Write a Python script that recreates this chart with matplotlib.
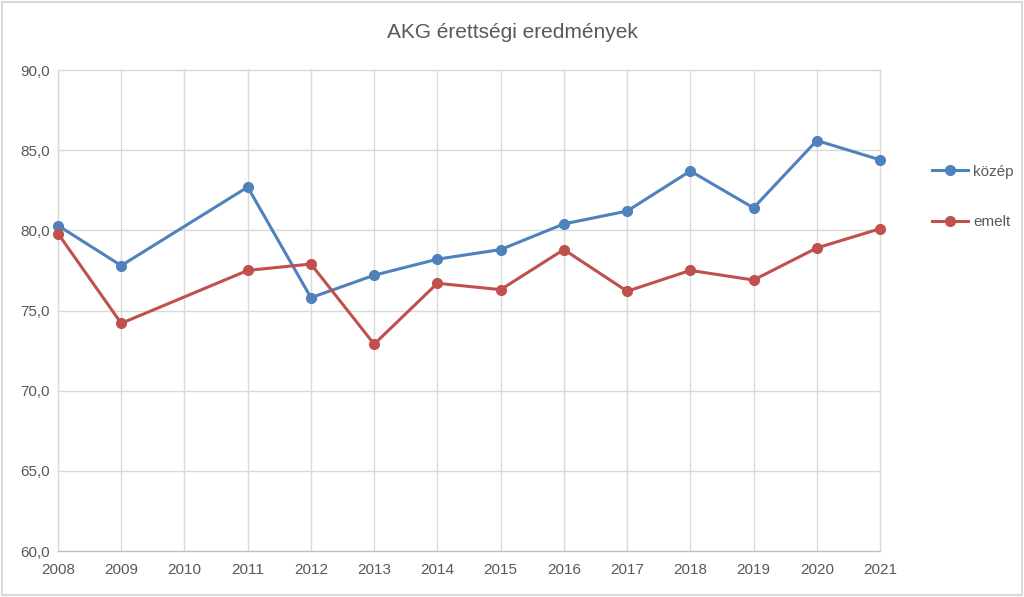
import matplotlib.pyplot as plt
from matplotlib.patches import Rectangle

# adatok (2010-ben nincs érték)
evek = [2008, 2009, 2011, 2012, 2013, 2014, 2015, 2016, 2017, 2018, 2019, 2020, 2021]
kozep = [80.3, 77.8, 82.7, 75.8, 77.2, 78.2, 78.8, 80.4, 81.2, 83.7, 81.4, 85.6, 84.4]
emelt = [79.8, 74.2, 77.5, 77.9, 72.9, 76.7, 76.3, 78.8, 76.2, 77.5, 76.9, 78.9, 80.1]
tengely_evek = list(range(2008, 2022))
y_ticks = [60, 65, 70, 75, 80, 85, 90]

plt.rcParams['font.family'] = ['Liberation Sans', 'DejaVu Sans']
szurke = "#595959"

fig = plt.figure(figsize=(10.24, 5.97), dpi=100)
ax = fig.add_axes([58/1024, 1-551/597, (880-58)/1024, (551-70)/597])

ax.plot(evek, kozep, color="#4F81BD", lw=2.2, marker="o", ms=7, label="közép",
        clip_on=False, zorder=3)
ax.plot(evek, emelt, color="#C0504D", lw=2.2, marker="o", ms=7, label="emelt",
        clip_on=False, zorder=3)

ax.set_xlim(2008, 2021)
ax.set_ylim(60, 90)
ax.set_xticks(tengely_evek)
ax.set_xticklabels([str(e) for e in tengely_evek])
ax.set_yticks(y_ticks)
ax.set_yticklabels([f"{v:.1f}".replace(".", ",") for v in y_ticks])
ax.tick_params(length=0, labelsize=11, colors=szurke, pad=6)
ax.tick_params(axis="x", pad=9)
ax.grid(True, color="#D9D9D9", lw=1)
ax.set_axisbelow(True)
for s in ["top", "right"]:
    ax.spines[s].set_visible(False)
ax.spines["left"].set_color("#D9D9D9")
ax.spines["bottom"].set_color("#BFBFBF")
for line in ax.get_xgridlines() + ax.get_ygridlines():
    line.set_clip_on(False)

fig.text(512/1024, 1-32/597, "AKG érettségi eredmények", ha="center", va="center",
         fontsize=15, color=szurke)

fig.legend(loc="center left", bbox_to_anchor=(918/1024, 1-197/597), frameon=False,
           fontsize=11, labelspacing=2.4, handlelength=2.4, handletextpad=0.3,
           labelcolor=szurke)

fig.patches.append(Rectangle((0.002, 0.003), 0.996, 0.994, transform=fig.transFigure,
                             fill=False, edgecolor="#D9D9D9", lw=1.5))

fig.savefig("out.png", dpi=100)
